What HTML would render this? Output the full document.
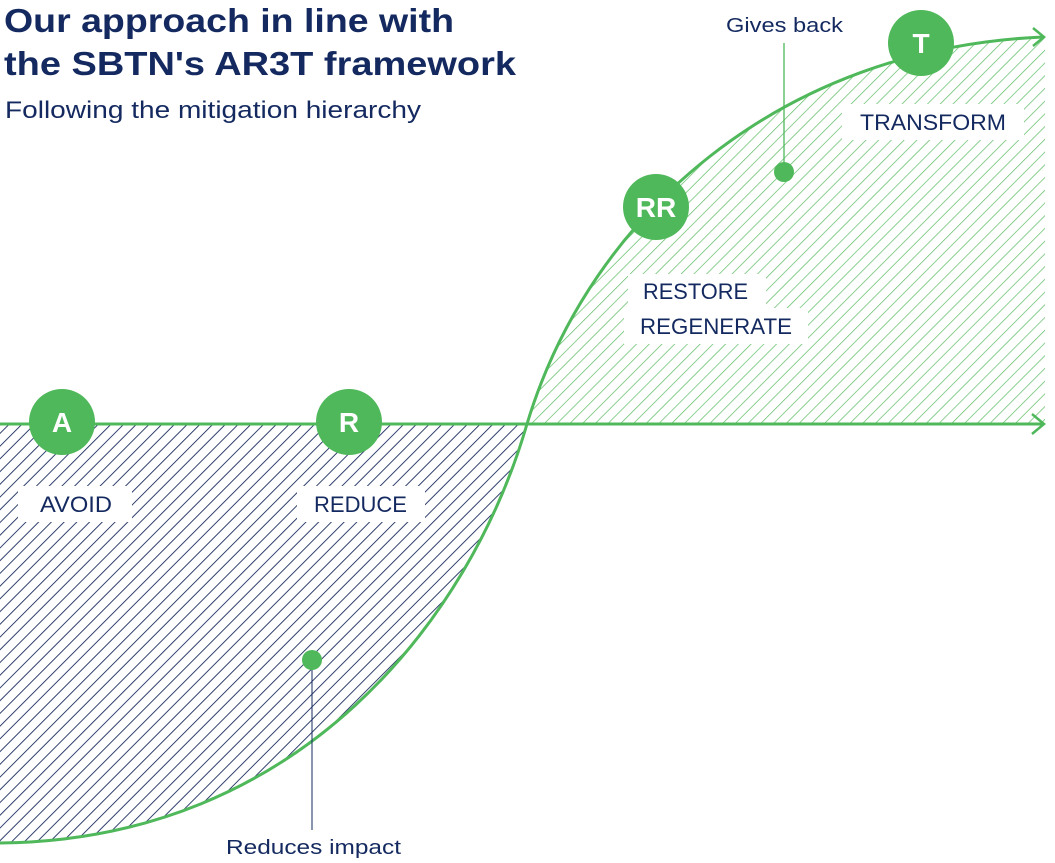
<!DOCTYPE html>
<html><head><meta charset="utf-8"><style>
html,body{margin:0;padding:0;background:#fff;}
svg{display:block;font-family:"Liberation Sans",sans-serif;}
</style></head><body>
<svg width="1055" height="863" viewBox="0 0 1055 863" xmlns="http://www.w3.org/2000/svg">
<defs>
<pattern id="hn" patternUnits="userSpaceOnUse" width="9" height="9" patternTransform="rotate(45)">
<line x1="0" y1="0" x2="0" y2="9" stroke="#1b2d5e" stroke-width="1.8"/>
</pattern>
<pattern id="hg" patternUnits="userSpaceOnUse" width="9" height="9" patternTransform="rotate(45)">
<line x1="0" y1="0" x2="0" y2="9" stroke="#5cbb63" stroke-width="1.4"/>
</pattern>
</defs>
<path d="M0,424 L527,424 C470,620 300,840 0,843 Z" fill="url(#hn)"/>
<path d="M527,424 L1045,424 L1045,37 C780,48 590,215 527,424 Z" fill="url(#hg)"/>
<line x1="0" y1="424" x2="1043" y2="424" stroke="#4fb85a" stroke-width="3"/>
<polyline points="1032,414 1044,424 1032,434" fill="none" stroke="#4fb85a" stroke-width="2.5"/>
<path d="M0,843 C300,840 470,620 527,424 C590,215 780,48 1043,37" fill="none" stroke="#4fb85a" stroke-width="3"/>
<polyline points="1033,28 1044,37 1033,46" fill="none" stroke="#4fb85a" stroke-width="2.5"/>
<g fill="#fff">
<rect x="18" y="486" width="114" height="36"/>
<rect x="297" y="486" width="128" height="36"/>
<rect x="628" y="274" width="138" height="34"/>
<rect x="624" y="308" width="184" height="36"/>
<rect x="842" y="104" width="182" height="36"/>
</g>
<g fill="#13295f" font-size="22">
<text x="40" y="512" textLength="72" lengthAdjust="spacingAndGlyphs">AVOID</text>
<text x="314" y="512" textLength="93" lengthAdjust="spacingAndGlyphs">REDUCE</text>
<text x="643" y="299" textLength="105" lengthAdjust="spacingAndGlyphs">RESTORE</text>
<text x="640" y="334" textLength="152" lengthAdjust="spacingAndGlyphs">REGENERATE</text>
<text x="860" y="130" textLength="146" lengthAdjust="spacingAndGlyphs">TRANSFORM</text>
<text x="726" y="32" font-size="20" textLength="117" lengthAdjust="spacingAndGlyphs">Gives back</text>
<text x="226" y="854" font-size="20" textLength="175" lengthAdjust="spacingAndGlyphs">Reduces impact</text>
</g>
<line x1="784" y1="43" x2="784" y2="172" stroke="#4fb85a" stroke-width="1.3"/>
<circle cx="784" cy="172" r="10" fill="#4fb85a"/>
<line x1="312" y1="660" x2="312" y2="830" stroke="#13295f" stroke-width="1"/>
<circle cx="312" cy="660" r="10" fill="#4fb85a"/>
<g fill="#4fb85a">
<circle cx="62" cy="422" r="33"/>
<circle cx="349" cy="422" r="33"/>
<circle cx="656" cy="207" r="33"/>
<circle cx="921" cy="43" r="33"/>
</g>
<g fill="#fff" font-size="28" font-weight="bold" text-anchor="middle">
<text x="62" y="432">A</text>
<text x="349" y="432">R</text>
<text x="656" y="217">RR</text>
<text x="921" y="53">T</text>
</g>
<g fill="#13295f">
<text x="4" y="32" font-size="33" font-weight="bold" textLength="450" lengthAdjust="spacingAndGlyphs">Our approach in line with</text>
<text x="4" y="75" font-size="33" font-weight="bold" textLength="512" lengthAdjust="spacingAndGlyphs">the SBTN's AR3T framework</text>
<text x="5" y="118" font-size="24" textLength="416" lengthAdjust="spacingAndGlyphs">Following the mitigation hierarchy</text>
</g>
</svg>
</body></html>
